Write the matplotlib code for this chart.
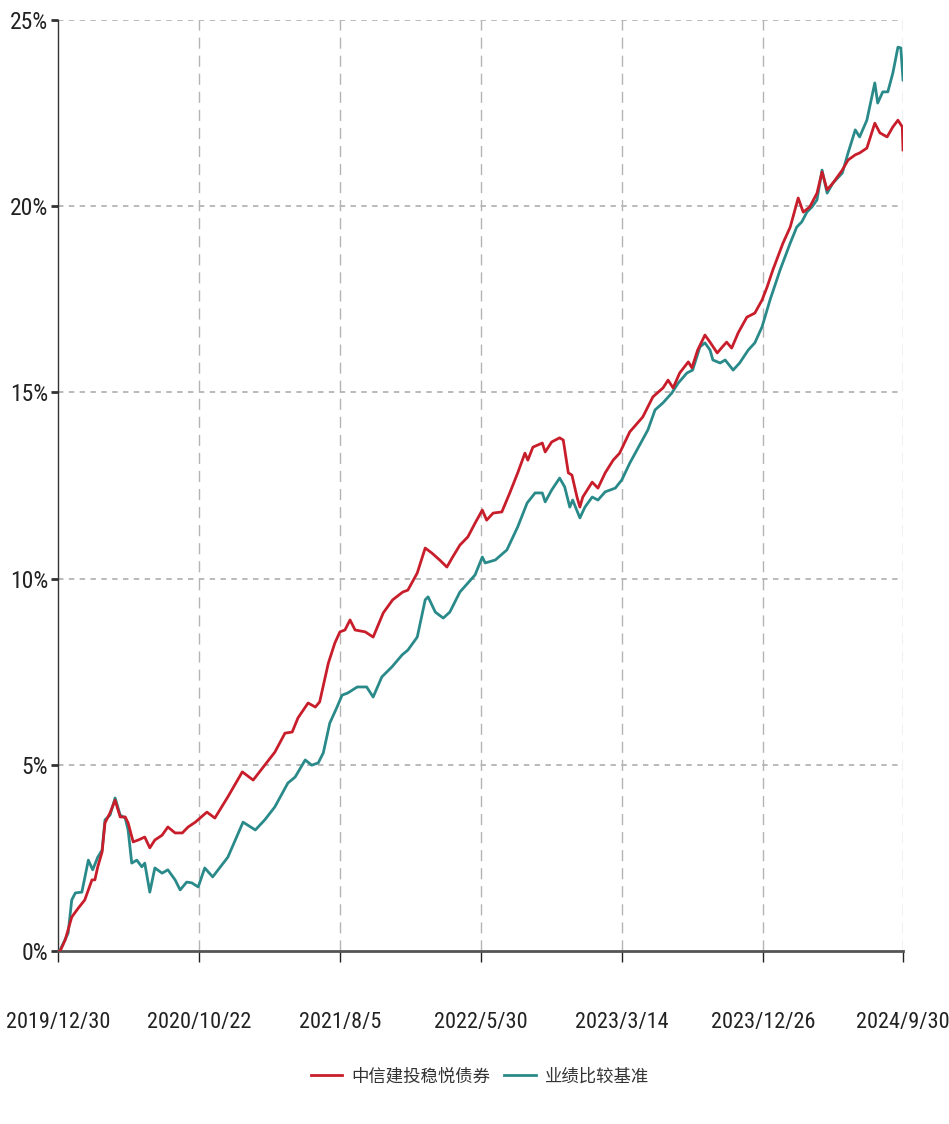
import matplotlib
matplotlib.use("Agg")
import matplotlib.pyplot as plt
from matplotlib import font_manager

# ---------------- data ----------------
tick_labels = ["2019/12/30", "2020/10/22", "2021/8/5", "2022/5/30",
               "2023/3/14", "2023/12/26", "2024/9/30"]
tick_index = [0, 195, 390, 585, 780, 975, 1169]

fund_name = "中信建投稳悦债券"
bench_name = "业绩比较基准"

fund_x = [0, 3, 10, 19, 28, 37, 47, 51, 55, 61, 65, 72, 79, 86, 93, 97, 104, 111,
          120, 127, 134, 144, 152, 162, 172, 180, 190, 206, 217, 235, 255, 270, 286,
          300, 314, 324, 332, 346, 356, 362, 374, 383, 390, 397, 404, 411, 425, 436,
          450, 463, 477, 484, 497, 508, 517, 528, 538, 546, 556, 567, 577, 587, 593,
          602, 614, 625, 636, 646, 650, 657, 670, 674, 683, 694, 699, 706, 711, 718,
          722, 726, 739, 747, 757, 768, 777, 791, 809, 823, 837, 844, 851, 860, 872,
          877, 885, 895, 902, 912, 919, 925, 932, 941, 953, 964, 974, 981, 989, 1003,
          1013, 1024, 1031, 1040, 1050, 1057, 1064, 1072, 1085, 1093, 1103, 1109,
          1119, 1130, 1137, 1147, 1155, 1162, 1168, 1169]
fund_y = [0.00, 0.00, 0.30, 0.91, 1.15, 1.37, 1.91, 1.91, 2.26, 2.66, 3.44, 3.71, 4.05,
          3.60, 3.60, 3.44, 2.93, 2.98, 3.06, 2.77, 2.98, 3.11, 3.33, 3.17, 3.17, 3.33,
          3.46, 3.73, 3.57, 4.14, 4.81, 4.59, 4.99, 5.34, 5.85, 5.88, 6.26, 6.66, 6.55,
          6.69, 7.73, 8.27, 8.57, 8.62, 8.89, 8.62, 8.57, 8.43, 9.08, 9.43, 9.64, 9.69,
          10.15, 10.82, 10.69, 10.50, 10.31, 10.58, 10.90, 11.12, 11.49, 11.84, 11.57,
          11.76, 11.79, 12.30, 12.84, 13.37, 13.18, 13.53, 13.64, 13.40, 13.67, 13.78,
          13.72, 12.84, 12.78, 12.19, 11.92, 12.19, 12.59, 12.43, 12.84, 13.18, 13.37,
          13.94, 14.34, 14.88, 15.12, 15.33, 15.12, 15.52, 15.82, 15.66, 16.14, 16.54,
          16.35, 16.06, 16.22, 16.35, 16.19, 16.60, 17.02, 17.13, 17.48, 17.83, 18.29,
          19.01, 19.44, 20.22, 19.84, 19.98, 20.35, 20.92, 20.44, 20.62, 20.97, 21.24,
          21.38, 21.43, 21.56, 22.23, 21.97, 21.86, 22.13, 22.31, 22.13, 21.51]

bench_x = [0, 3, 14, 19, 24, 33, 42, 48, 55, 61, 65, 72, 79, 86, 93, 97, 102, 109,
           116, 120, 127, 134, 144, 152, 162, 169, 178, 185, 194, 203, 214, 235, 256,
           273, 286, 300, 318, 328, 342, 351, 360, 367, 376, 386, 393, 401, 414, 427,
           436, 448, 462, 476, 484, 497, 508, 512, 522, 533, 542, 556, 567, 577, 587,
           591, 605, 621, 636, 649, 660, 670, 674, 683, 694, 701, 708, 712, 722, 729,
           739, 747, 757, 771, 780, 791, 816, 826, 837, 849, 858, 870, 878, 888, 895,
           902, 906, 916, 923, 934, 943, 955, 964, 974, 985, 999, 1013, 1022, 1029,
           1036, 1043, 1050, 1057, 1064, 1072, 1085, 1093, 1103, 1109, 1119, 1130,
           1134, 1141, 1148, 1155, 1162, 1166, 1169]
bench_y = [0.00, 0.03, 0.48, 1.37, 1.56, 1.58, 2.44, 2.18, 2.52, 2.71, 3.52, 3.65, 4.11,
           3.65, 3.57, 3.25, 2.36, 2.44, 2.26, 2.36, 1.58, 2.23, 2.09, 2.18, 1.91, 1.64,
           1.85, 1.83, 1.72, 2.23, 1.99, 2.52, 3.46, 3.25, 3.52, 3.87, 4.51, 4.67, 5.13,
           4.99, 5.05, 5.32, 6.12, 6.55, 6.87, 6.93, 7.09, 7.09, 6.82, 7.36, 7.63, 7.95,
           8.08, 8.43, 9.43, 9.51, 9.10, 8.94, 9.10, 9.64, 9.88, 10.10, 10.58, 10.42,
           10.50, 10.77, 11.39, 12.03, 12.30, 12.30, 12.06, 12.38, 12.70, 12.46, 11.92,
           12.11, 11.63, 11.92, 12.19, 12.11, 12.33, 12.43, 12.65, 13.10, 13.99, 14.53,
           14.72, 14.98, 15.25, 15.52, 15.60, 16.22, 16.33, 16.14, 15.87, 15.79, 15.87,
           15.60, 15.79, 16.14, 16.33, 16.76, 17.48, 18.29, 19.01, 19.44, 19.58, 19.84,
           19.98, 20.17, 20.97, 20.35, 20.62, 20.89, 21.43, 22.05, 21.86, 22.31, 23.31,
           22.77, 23.07, 23.07, 23.58, 24.27, 24.25, 23.39]

y_ticks = [0, 5, 10, 15, 20, 25]

# ---------------- fonts ----------------
available = {f.name for f in font_manager.fontManager.ttflist}
latin = "DejaVu Sans"
for cand in ["Liberation Sans Narrow", "DejaVu Sans Condensed", "Roboto Condensed",
             "Open Sans Condensed"]:
    if cand in available:
        latin = cand
        break
plt.rcParams["font.family"] = [latin, "Noto Sans CJK SC", "DejaVu Sans"]

# ---------------- figure ----------------
fig = plt.figure(figsize=(9.49, 11.24), dpi=100)
ax = fig.add_axes([58 / 949, 1 - 951 / 1124, (903 - 58) / 949, (951 - 20) / 1124])

red = "#c81d2a"
teal = "#2a8a8a"
ax.plot(bench_x, bench_y, color=teal, lw=2.0, label=bench_name, zorder=3)
ax.plot(fund_x, fund_y, color=red, lw=2.0, label=fund_name, zorder=4)

ax.set_xlim(0, 1169)
ax.set_ylim(0, 25)
ax.set_yticks(y_ticks)
ax.set_yticklabels([f"{v}%" for v in y_ticks])
ax.set_xticks(tick_index)
ax.set_xticklabels(tick_labels)

for v in y_ticks[1:]:
    ax.axhline(v, color="#b4b4b4", lw=1.3, ls=(0, (3, 3)), zorder=1)
for t in tick_index[1:]:
    ax.axvline(t, color="#b4b4b4", lw=1.0, ls=(0, (8, 5)), zorder=1)

for s in ["top", "right"]:
    ax.spines[s].set_visible(False)
ax.spines["left"].set_color("#333333")
ax.spines["left"].set_linewidth(1.0)
ax.spines["bottom"].set_color("#555555")
ax.spines["bottom"].set_linewidth(2.0)

ax.tick_params(axis="y", length=5, width=2, color="#333333", labelsize=17,
               labelcolor="#222222", pad=2)
ax.tick_params(axis="x", length=8, width=1, color="#222222", labelsize=16,
               labelcolor="#222222", pad=36)

handles, labels = ax.get_legend_handles_labels()
leg = fig.legend(handles[::-1], labels[::-1], loc="center",
                 bbox_to_anchor=(480 / 949, 1 - 1076 / 1124),
                 ncol=2, frameon=False, fontsize=12.5, handlelength=1.8,
                 columnspacing=0.8, handletextpad=0.55)
for t in leg.get_texts():
    t.set_color("#333333")

fig.savefig("out.png", dpi=100)
